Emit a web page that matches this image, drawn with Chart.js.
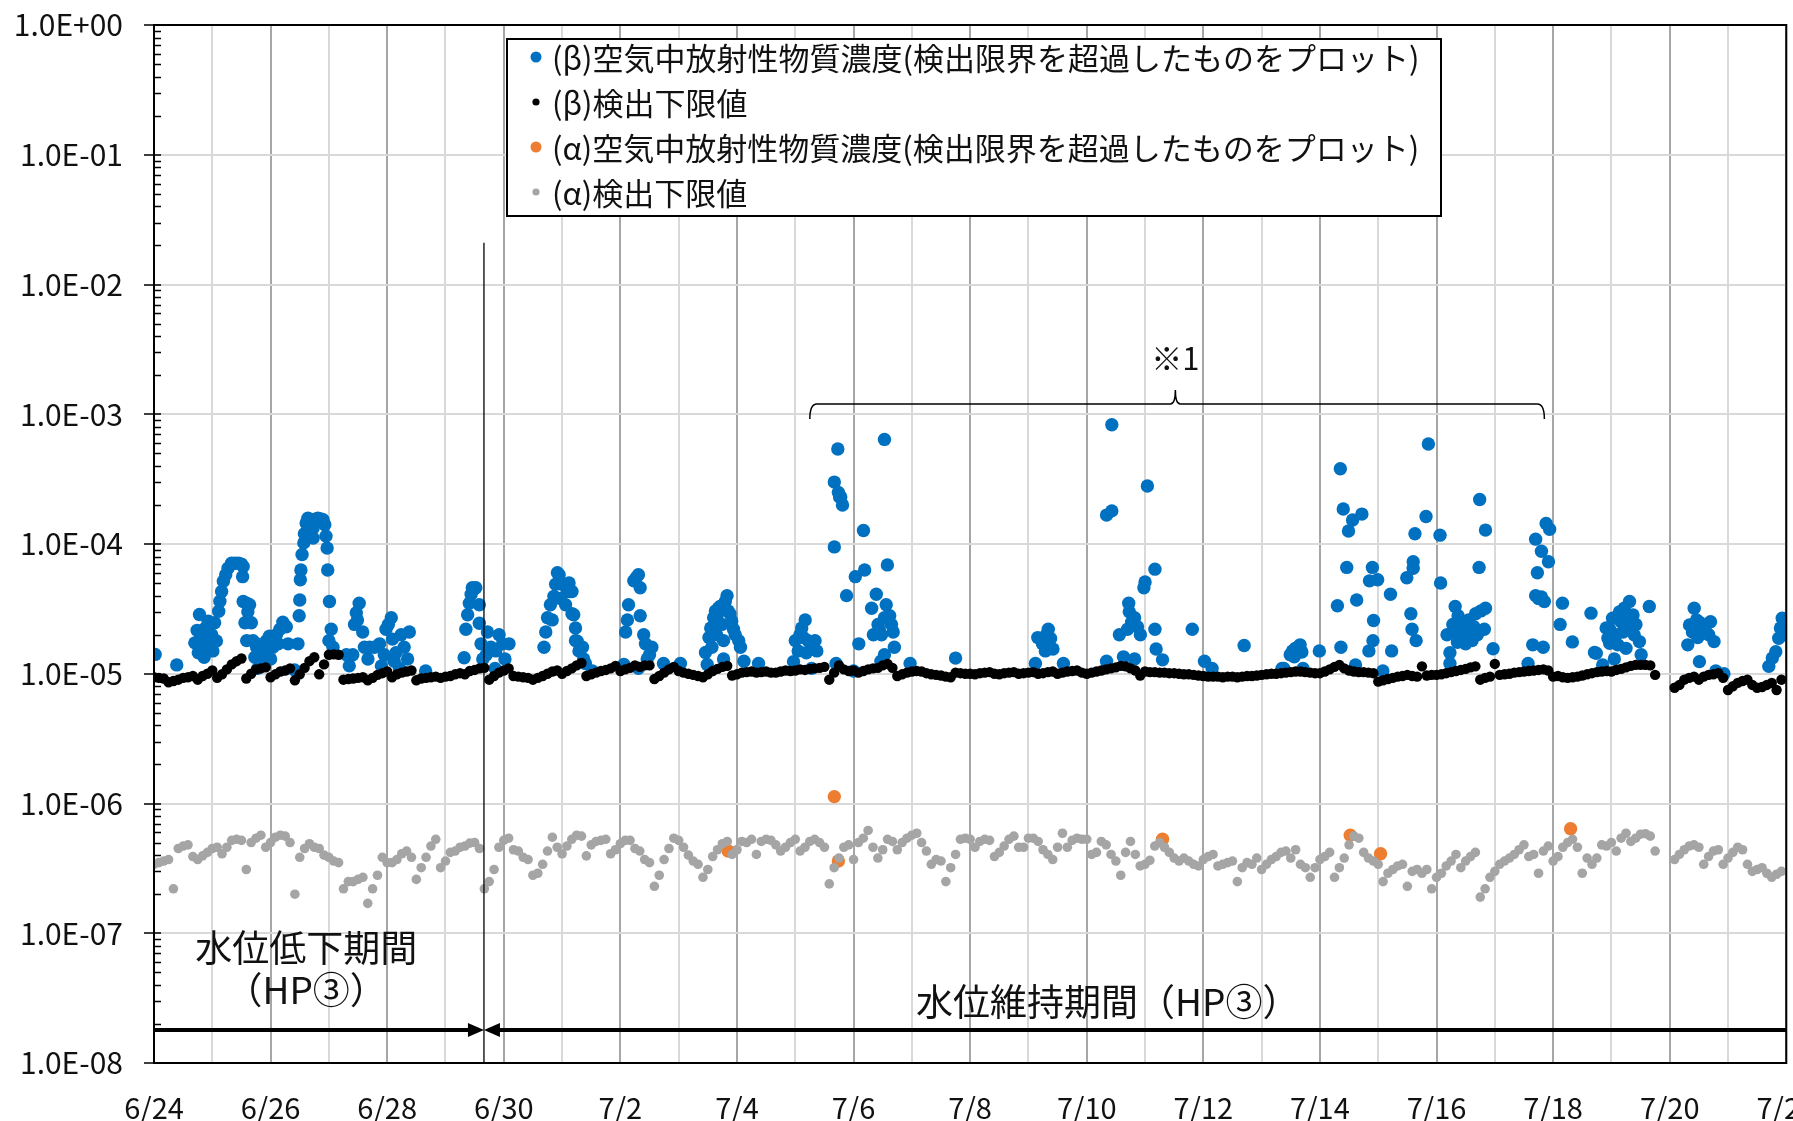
<!DOCTYPE html>
<html lang="ja">
<head>
<meta charset="utf-8">
<title>空気中放射性物質濃度</title>
<script src="https://cdn.jsdelivr.net/npm/chart.js@4.4.1/dist/chart.umd.min.js"></script>
<style>
  html, body { margin: 0; padding: 0; background: #fff; }
  canvas { display: block; }
</style>
</head>
<body>
<canvas id="graph" width="1793" height="1121"></canvas>
<script>
const xTickLabels = ['6/24', '6/26', '6/28', '6/30', '7/2', '7/4', '7/6', '7/8', '7/10', '7/12', '7/14', '7/16', '7/18', '7/20', '7/22'];
const yTickValues = [1e-8, 1e-7, 1e-6, 1e-5, 1e-4, 1e-3, 1e-2, 1e-1, 1];
const yTickLabels = ['1.0E-08', '1.0E-07', '1.0E-06', '1.0E-05', '1.0E-04', '1.0E-03', '1.0E-02', '1.0E-01', '1.0E+00'];
const seriesLabels = [
  '(β)空気中放射性物質濃度(検出限界を超過したものをプロット)',
  '(β)検出下限値',
  '(α)空気中放射性物質濃度(検出限界を超過したものをプロット)',
  '(α)検出下限値'
];

// β 濃度 [6/24 0時からの日数, Bq/cm3]
const betaConc = [
  [0.02,1.41e-5],[0.39,1.17e-5],[0.70,1.73e-5],[0.74,2.16e-5],[0.76,1.45e-5],[0.78,2.86e-5],[0.80,1.9e-5],
  [0.82,1.59e-5],[0.86,1.34e-5],[0.89,2.27e-5],[0.93,2.54e-5],[0.95,1.7e-5],[0.99,2.0e-5],[1.01,1.5e-5],
  [1.04,2.47e-5],[1.07,1.79e-5],[1.11,3.03e-5],[1.13,3.62e-5],[1.16,4.3e-5],[1.19,5.16e-5],[1.23,5.8e-5],
  [1.27,6.5e-5],[1.33,7.1e-5],[1.39,7.1e-5],[1.45,7.1e-5],[1.50,7.0e-5],[1.52,5.6e-5],[1.53,6.7e-5],
  [1.53,3.6e-5],[1.56,2.47e-5],[1.59,3.5e-5],[1.59,1.8e-5],[1.61,3.0e-5],[1.64,3.4e-5],[1.67,2.47e-5],
  [1.70,1.8e-5],[1.73,1.34e-5],[1.76,1.6e-5],[1.78,1.1e-5],[1.81,1.68e-5],[1.84,1.2e-5],[1.87,1.4e-5],
  [1.90,1.5e-5],[1.93,1.8e-5],[1.98,1.95e-5],[2.00,1.3e-5],[2.04,1.6e-5],[2.10,2.0e-5],[2.13,1.7e-5],
  [2.16,2.2e-5],[2.21,2.5e-5],[2.27,2.3e-5],[2.30,1.7e-5],[2.41,1.07e-5],[2.47,1.7e-5],
  [2.49,2.8e-5],[2.50,3.7e-5],[2.51,5.3e-5],[2.52,6.3e-5],[2.54,8.3e-5],[2.57,1.02e-4],[2.58,1.2e-4],
  [2.61,1.45e-4],[2.64,1.58e-4],[2.67,1.55e-4],[2.70,1.5e-4],[2.73,1.33e-4],[2.73,1.11e-4],[2.77,1.55e-4],
  [2.81,1.58e-4],[2.86,1.56e-4],[2.90,1.54e-4],[2.93,1.41e-4],[2.95,1.15e-4],[2.97,9.3e-5],[2.98,6.3e-5],
  [3.00,1.8e-5],[3.01,3.6e-5],[3.04,2.2e-5],[3.07,1.6e-5],
  [3.30,1.4e-5],[3.35,1.15e-5],[3.41,1.4e-5],[3.44,2.4e-5],[3.47,2.95e-5],[3.49,2.6e-5],[3.52,3.5e-5],
  [3.58,2.1e-5],[3.61,1.6e-5],[3.67,1.3e-5],[3.70,1.6e-5],[3.78,1.6e-5],[3.87,1.7e-5],[3.90,1.15e-5],
  [3.95,1.4e-5],[3.98,2.2e-5],[4.02,2.4e-5],[4.07,2.7e-5],[4.09,1.85e-5],[4.12,1.25e-5],[4.15,1.45e-5],
  [4.21,1.1e-5],[4.24,2.0e-5],[4.29,1.6e-5],[4.35,1.3e-5],[4.38,2.1e-5],[4.66,1.05e-5],
  [5.32,1.33e-5],[5.35,2.2e-5],[5.38,2.85e-5],[5.41,3.5e-5],[5.44,4.1e-5],[5.46,4.6e-5],[5.49,4.5e-5],
  [5.52,4.6e-5],[5.58,3.4e-5],[5.58,2.45e-5],[5.61,1.7e-5],[5.64,1.3e-5],[5.70,1.4e-5],[5.72,2.1e-5],
  [5.78,1.6e-5],[5.85,1.1e-5],[5.86,1.5e-5],[5.92,2.0e-5],[5.98,1.7e-5],[6.02,1.3e-5],[6.09,1.7e-5],
  [6.69,1.6e-5],[6.72,2.1e-5],[6.75,2.7e-5],[6.80,3.4e-5],[6.83,2.6e-5],[6.86,3.95e-5],[6.89,4.9e-5],
  [6.92,6.0e-5],[6.95,5.8e-5],[6.97,3.8e-5],[7.00,4.9e-5],[7.06,3.4e-5],[7.09,4.3e-5],[7.12,5.0e-5],
  [7.14,4.3e-5],[7.17,4.3e-5],[7.17,2.9e-5],[7.20,2.85e-5],[7.23,2.25e-5],[7.23,1.8e-5],[7.26,1.78e-5],
  [7.29,1.5e-5],[7.35,1.6e-5],[7.37,1.3e-5],[7.40,1.2e-5],[7.52,1.05e-5],
  [8.06,1.18e-5],[8.09,2.1e-5],[8.12,2.6e-5],[8.14,3.4e-5],[8.23,5.2e-5],[8.27,5.5e-5],[8.31,5.8e-5],
  [8.31,1.1e-5],[8.34,4.6e-5],[8.34,2.8e-5],[8.40,2.0e-5],[8.43,1.7e-5],[8.46,1.3e-5],[8.50,1.4e-5],
  [8.54,1.6e-5],[8.74,1.2e-5],[9.03,1.2e-5],
  [9.46,1.46e-5],[9.49,1.18e-5],[9.52,1.9e-5],[9.55,2.25e-5],[9.57,1.6e-5],[9.60,2.7e-5],[9.63,3.04e-5],
  [9.65,2.0e-5],[9.66,2.8e-5],[9.68,3.2e-5],[9.71,3.3e-5],[9.74,2.4e-5],[9.77,1.8e-5],[9.77,1.3e-5],
  [9.80,3.6e-5],[9.83,4.0e-5],[9.85,3.05e-5],[9.88,2.9e-5],[9.91,2.55e-5],[9.94,2.2e-5],[9.97,2.0e-5],
  [10.03,1.8e-5],[10.06,1.6e-5],[10.12,1.25e-5],[10.37,1.2e-5],
  [10.97,1.24e-5],[11.00,1.8e-5],[11.05,1.5e-5],[11.08,2.0e-5],[11.11,2.25e-5],[11.14,1.9e-5],[11.17,2.6e-5],
  [11.19,1.45e-5],[11.22,1.8e-5],[11.28,1.7e-5],[11.28,1.1e-5],[11.34,1.8e-5],[11.37,1.5e-5],
  [11.67,3.0e-4],[11.67,9.5e-5],[11.70,1.2e-5],[11.73,5.4e-4],[11.74,2.5e-4],[11.76,2.3e-4],[11.78,2.3e-4],
  [11.81,2.0e-4],[11.88,4.0e-5],[12.00,1.05e-5],[12.03,5.6e-5],[12.09,1.7e-5],[12.17,1.27e-4],[12.19,6.3e-5],
  [12.31,3.2e-5],[12.34,2.0e-5],[12.39,4.1e-5],[12.42,2.4e-5],[12.44,2.2e-5],[12.47,1.25e-5],[12.48,2.0e-5],
  [12.53,6.4e-4],[12.53,2.7e-5],[12.53,1.4e-5],[12.56,3.4e-5],[12.58,6.9e-5],[12.62,2.8e-5],[12.65,2.4e-5],
  [12.68,2.1e-5],[12.70,1.6e-5],[12.97,1.2e-5],[13.75,1.32e-5],
  [15.12,1.2e-5],[15.16,1.9e-5],[15.24,1.7e-5],[15.29,1.5e-5],[15.31,2.0e-5],[15.34,2.2e-5],[15.38,1.87e-5],
  [15.42,1.55e-5],[15.60,1.2e-5],[16.34,1.25e-5],
  [16.34,1.67e-4],[16.43,1.8e-4],[16.43,8.3e-4],[16.56,2.0e-5],[16.63,1.35e-5],[16.70,2.2e-5],[16.72,3.5e-5],
  [16.73,3.0e-5],[16.77,2.5e-5],[16.82,2.7e-5],[16.82,1.3e-5],[16.87,2.3e-5],[16.92,2.0e-5],[16.98,4.6e-5],
  [17.00,5.1e-5],[17.04,2.8e-4],[17.17,6.4e-5],[17.17,2.2e-5],[17.19,1.55e-5],[17.30,1.28e-5],
  [17.81,2.2e-5],[18.02,1.25e-5],[18.15,1.1e-5],[18.70,1.65e-5],
  [19.35,1.1e-5],[19.38,1.1e-5],[19.49,1.4e-5],[19.53,1.5e-5],[19.56,1.35e-5],[19.58,1.57e-5],[19.62,1.6e-5],
  [19.66,1.67e-5],[19.69,1.47e-5],[19.71,1.1e-5],[19.99,1.5e-5],
  [20.30,3.34e-5],[20.35,3.8e-4],[20.36,1.6e-5],[20.40,1.86e-4],[20.46,6.6e-5],[20.49,1.26e-4],[20.56,1.53e-4],
  [20.61,1.17e-5],[20.63,3.7e-5],[20.72,1.7e-4],[20.84,1.5e-5],[20.85,5.2e-5],[20.90,6.6e-5],[20.91,1.8e-5],
  [20.92,2.57e-5],[20.99,5.3e-5],[21.08,1.05e-5],[21.21,4.1e-5],[21.23,1.5e-5],
  [21.49,5.5e-5],[21.56,2.9e-5],[21.58,2.2e-5],[21.60,7.3e-5],[21.60,6.5e-5],[21.63,1.2e-4],[21.65,1.8e-5],
  [21.82,1.63e-4],[21.86,5.9e-4],[22.06,1.17e-4],[22.07,5.0e-5],[22.18,2.0e-5],[22.23,1.45e-5],[22.23,1.2e-5],
  [22.28,2.4e-5],[22.32,3.3e-5],[22.33,2.1e-5],[22.36,1.75e-5],[22.37,2.8e-5],[22.40,2.2e-5],[22.43,1.9e-5],
  [22.46,2.5e-5],[22.49,2.3e-5],[22.50,1.7e-5],[22.52,2.0e-5],[22.55,2.6e-5],[22.58,2.1e-5],[22.61,1.8e-5],
  [22.64,2.3e-5],[22.67,2.9e-5],[22.70,2.0e-5],[22.73,6.6e-5],[22.74,2.2e-4],[22.76,3.05e-5],[22.82,2.2e-5],
  [22.84,1.28e-4],[22.84,3.2e-5],[22.97,1.56e-5],
  [23.57,1.2e-5],[23.65,1.67e-5],[23.70,1.09e-4],[23.70,4.0e-5],[23.73,6.0e-5],[23.75,3.8e-5],[23.80,8.8e-5],
  [23.80,3.9e-5],[23.83,1.6e-5],[23.85,3.6e-5],[23.88,1.44e-4],[23.92,7.3e-5],[23.94,1.3e-4],[24.12,2.4e-5],
  [24.16,3.5e-5],[24.33,1.76e-5],[24.65,2.93e-5],[24.71,1.46e-5],
  [24.74,1.44e-5],[24.85,1.17e-5],[24.91,2.25e-5],[24.94,1.88e-5],[24.97,1.72e-5],[24.97,2.2e-5],[25.02,2.68e-5],
  [25.05,1.3e-5],[25.08,2.0e-5],[25.11,1.67e-5],[25.14,3.0e-5],[25.17,2.5e-5],[25.20,2.1e-5],[25.22,3.2e-5],
  [25.25,2.4e-5],[25.25,1.57e-5],[25.28,2.7e-5],[25.31,3.6e-5],[25.34,2.25e-5],[25.37,2.84e-5],[25.39,2.0e-5],
  [25.42,2.4e-5],[25.48,1.77e-5],[25.51,1.4e-5],[25.65,3.3e-5],
  [26.31,1.67e-5],[26.34,2.38e-5],[26.39,2.1e-5],[26.42,3.2e-5],[26.46,2.6e-5],[26.48,1.9e-5],[26.51,2.5e-5],
  [26.51,1.24e-5],[26.54,2.1e-5],[26.58,2.3e-5],[26.62,2.38e-5],[26.67,2.0e-5],[26.70,2.52e-5],[26.76,1.77e-5],
  [26.79,1.05e-5],[26.93,1.0e-5],
  [27.70,1.14e-5],[27.76,1.32e-5],[27.82,1.48e-5],[27.87,1.88e-5],[27.90,2.25e-5],[27.93,2.68e-5],[27.96,2.0e-5],
  [27.99,2.4e-5]
];

// β 検出下限値 (x1e-6)、1日12点 (2時間ごと)
const betaLimit = [
  [9.4,9.3,9.2,8.6,8.8,9.0,9.3,9.4,9.6,9.0,9.6,10.0],
  [10.6,9.3,9.9,10.8,11.8,12.5,13.1,9.2,10.0,10.8,11.0,11.2],
  [9.4,9.9,10.4,10.6,11.0,8.9,9.9,11.1,12.5,13.4,9.9,11.8],
  [14.0,14.1,14.0,9.0,9.1,9.2,9.3,9.4,8.9,9.3,9.8,10.1],
  [10.4,9.4,9.9,10.2,10.4,10.6,8.9,9.2,9.3,9.4,9.5,9.3],
  [9.5,9.6,9.9,10.1,9.9,10.5,10.7,11.0,11.1,9.0,9.6,10.2],
  [10.6,11.0,9.6,9.5,9.4,9.3,9.0,9.3,9.6,10.0,10.4,10.6],
  [10.0,10.5,11.0,11.6,12.1,9.6,9.9,10.2,10.5,10.7,11.0,11.5],
  [10.5,10.8,11.1,11.6,11.3,11.6,11.6,9.1,9.6,10.2,10.8,11.3],
  [10.5,10.2,10.0,9.8,9.6,9.4,9.9,10.5,10.9,11.3,11.5,9.7],
  [9.9,10.2,10.3,10.4,10.2,10.3,10.4,10.2,10.2,10.4,10.6,10.5],
  [10.6,10.8,10.7,10.9,11.0,11.1,11.3,9.0,10.2,11.6,10.8,10.5],
  [10.6,10.2,10.5,10.8,11.0,11.1,11.6,11.9,11.1,9.6,9.9,10.2],
  [10.4,10.5,10.4,10.1,9.9,9.8,9.7,9.5,9.4,10.2,10.1,10.0],
  [10.0,9.9,10.1,10.2,10.3,10.0,9.9,10.1,10.2,10.3,10.0,10.1],
  [10.2,10.3,10.0,10.1,10.3,10.4,10.0,10.2,10.4,10.5,10.6,10.2],
  [10.0,10.2,10.4,10.6,10.8,11.0,11.2,11.5,11.4,11.0,10.6,9.7],
  [10.4,10.3,10.3,10.2,10.2,10.1,10.1,10.0,9.9,9.9,9.8,9.7],
  [9.6,9.5,9.5,9.5,9.4,9.5,9.5,9.4,9.5,9.6,9.6,9.7],
  [9.8,9.9,10.0,10.0,10.1,10.2,10.3,10.4,10.4,10.3,10.2,10.1],
  [10.1,10.4,10.8,11.3,11.7,11.0,10.6,10.4,10.3,10.3,10.2,10.1],
  [8.7,8.9,9.1,9.3,9.5,9.6,9.8,9.6,9.5,11.4,9.7,9.8],
  [9.8,9.9,10.1,10.3,10.5,10.7,10.9,11.2,11.4,9.0,9.3,9.5],
  [11.9,9.8,9.9,10.0,10.2,10.3,10.4,10.5,10.6,10.7,10.8,10.6],
  [9.5,9.6,9.4,9.3,9.4,9.5,9.7,9.9,10.1,10.3,10.4,10.5],
  [10.4,10.7,10.9,11.2,11.5,11.7,11.7,11.7,11.6,9.8,null,null],
  [null,7.8,8.2,9.0,9.3,9.5,9.0,9.5,9.8,9.9,10.1,9.3],
  [7.5,8.0,8.5,8.8,9.0,8.2,7.8,7.9,8.2,8.5,7.5,9.0]
];

// α 濃度 [日数, Bq/cm3]
const alphaConc = [[9.85,4.3e-7],[11.67,1.13e-6],[11.74,3.6e-7],[17.30,5.3e-7],[20.52,5.7e-7],[21.04,4.1e-7],[24.30,6.4e-7]];

// α 検出下限値 (x1e-7)、1日12点
const alphaLimit = [
  [3.4,3.5,3.6,3.7,2.2,4.5,4.7,4.8,3.9,3.7,3.95,4.2],
  [4.5,4.6,4.1,4.6,5.2,5.3,5.2,3.1,5.0,5.4,5.7,4.6],
  [5.0,5.5,5.7,5.6,5.0,2.0,3.85,4.5,4.9,4.6,4.5,4.0],
  [3.85,3.6,3.5,2.2,2.5,2.5,2.6,2.7,1.7,2.2,2.8,3.85],
  [3.5,3.5,3.7,4.1,4.3,3.85,2.6,3.2,3.85,4.7,5.3,3.2],
  [3.6,4.2,4.3,4.6,4.7,4.95,5.0,4.5,2.2,2.5,3.1,4.6],
  [5.2,5.4,4.4,4.3,3.85,3.7,2.8,2.9,3.4,4.3,5.5,4.6],
  [4.1,4.7,5.3,5.7,5.6,3.95,4.8,5.1,5.2,5.3,4.1,4.4],
  [4.9,5.2,5.2,4.5,4.3,3.7,3.5,2.3,2.8,3.7,4.5,5.4],
  [5.2,4.6,4.0,3.6,3.4,2.7,3.1,3.9,4.4,4.9,5.1,4.05],
  [4.4,5.1,5.0,5.3,4.05,5.1,5.3,5.2,4.8,4.3,4.6,5.0],
  [5.3,4.3,4.6,5.1,5.3,5.0,4.6,2.4,3.2,3.8,4.6,4.8],
  [3.7,5.0,5.4,6.2,4.6,3.8,4.4,5.3,5.1,4.4,5.0,5.4],
  [5.7,5.9,5.0,4.3,3.4,3.7,3.6,2.5,3.2,4.05,5.3,5.4],
  [5.3,4.6,5.1,5.3,5.2,3.9,4.2,4.7,5.3,5.6,4.6,4.6],
  [5.4,5.4,5.1,4.4,4.05,3.7,4.6,5.9,4.6,5.2,5.4,5.3],
  [5.3,4.05,4.2,5.1,4.8,4.05,3.6,2.8,4.2,5.1,4.05,3.3],
  [3.4,3.65,4.7,5.0,4.6,4.2,3.8,3.6,3.8,3.6,3.4,3.3],
  [3.7,3.9,4.05,3.3,3.4,3.5,3.6,2.5,3.2,3.5,3.4,3.8],
  [3.1,3.4,3.7,3.9,4.2,4.3,3.8,4.4,3.4,3.2,2.7,3.2],
  [3.7,3.9,4.2,2.7,3.2,3.8,4.8,5.6,5.4,4.2,3.8,3.6],
  [3.4,2.5,2.9,3.1,3.3,3.4,2.3,3.0,3.1,2.9,3.1,2.2],
  [2.7,2.9,3.3,3.6,4.05,3.2,3.6,3.9,4.2,1.9,2.2,2.7],
  [3.0,3.4,3.6,3.8,4.05,4.4,4.8,3.9,4.05,2.9,4.3,4.7],
  [3.6,3.9,4.6,5.0,5.3,4.6,2.9,3.8,3.4,3.8,4.8,4.7],
  [5.0,4.3,5.4,5.9,5.1,5.4,5.8,5.85,5.6,4.3,null,null],
  [null,3.7,4.05,4.4,4.7,4.8,4.6,3.4,3.9,4.3,4.4,3.4],
  [3.8,4.2,4.6,4.4,3.4,3.0,3.1,3.2,2.9,2.7,2.85,3.0]
];

const FONT = '"Noto Sans CJK JP", "Noto Sans", sans-serif';
const TEXT = '#111';

// 期間の区切りと注記
const periodSplit = 5.66;
const splitTop = 2.1e-2;
const arrowLevel = 1.8e-8;
const bracket = { from: 11.25, to: 23.85, mid: 17.52, level: 1.2e-3, noteAt: 2.7e-3 };

function dailySeries(rows, unit) {
  let pts = [];
  rows.forEach((row, day) => {
    row.forEach((v, i) => {
      if (v !== null) pts.push({ x: day + i / 12, y: v * unit });
    });
  });
  return pts;
}

function toPoints(pairs) {
  return pairs.map((p) => ({ x: p[0], y: p[1] }));
}

function drawArrow(c, from, to, y) {
  const dir = Math.sign(to - from);
  c.beginPath();
  c.moveTo(from, y);
  c.lineTo(to - dir * 12, y);
  c.stroke();
  c.beginPath();
  c.moveTo(to, y);
  c.lineTo(to - dir * 16, y - 7);
  c.lineTo(to - dir * 16, y + 7);
  c.closePath();
  c.fill();
}

const frameAndTicks = {
  id: 'frameAndTicks',
  afterDraw(chart) {
    const c = chart.ctx, y = chart.scales.y, a = chart.chartArea;
    c.save();
    c.strokeStyle = '#000';
    c.lineWidth = 2;
    c.strokeRect(a.left, a.top, a.right - a.left, a.bottom - a.top);
    c.lineWidth = 1.5;
    c.beginPath();
    yTickValues.forEach((v, i) => {
      const py = Math.round(y.getPixelForValue(v));
      c.moveTo(a.left - 10, py);
      c.lineTo(a.left + 7, py);
      if (i === yTickValues.length - 1) return;
      for (let m = 2; m <= 9; m++) {
        const my = Math.round(y.getPixelForValue(v * m)) + 0.5;
        c.moveTo(a.left, my);
        c.lineTo(a.left + 7, my);
      }
    });
    c.stroke();
    c.restore();
  }
};

const notes = {
  id: 'notes',
  afterDatasetsDraw(chart) {
    const c = chart.ctx, x = chart.scales.x, y = chart.scales.y, a = chart.chartArea;
    const sx = x.getPixelForValue(periodSplit);
    c.save();
    c.strokeStyle = '#000';
    c.fillStyle = '#000';

    c.lineWidth = 1.3;
    c.beginPath();
    c.moveTo(sx, y.getPixelForValue(splitTop));
    c.lineTo(sx, a.bottom);
    c.stroke();

    const ay = y.getPixelForValue(arrowLevel);
    c.lineWidth = 4;
    drawArrow(c, a.left, sx, ay);
    drawArrow(c, a.right, sx, ay);

    // ※1 の括弧
    const bx1 = x.getPixelForValue(bracket.from), bx2 = x.getPixelForValue(bracket.to);
    const bxm = x.getPixelForValue(bracket.mid), by = y.getPixelForValue(bracket.level);
    c.lineWidth = 1.5;
    c.beginPath();
    c.moveTo(bx1, by + 15);
    c.quadraticCurveTo(bx1, by, bx1 + 7, by);
    c.lineTo(bxm - 5, by);
    c.quadraticCurveTo(bxm, by, bxm, by - 14);
    c.quadraticCurveTo(bxm, by, bxm + 5, by);
    c.lineTo(bx2 - 7, by);
    c.quadraticCurveTo(bx2, by, bx2, by + 15);
    c.stroke();

    c.fillStyle = TEXT;
    c.textAlign = 'center';
    c.textBaseline = 'middle';
    c.font = '31px ' + FONT;
    c.fillText('※1', bxm, y.getPixelForValue(bracket.noteAt));

    c.font = '37px ' + FONT;
    const lx = x.getPixelForValue(2.61);
    c.fillText('水位低下期間', lx, y.getPixelForValue(7.75e-8));
    c.fillText('（HP③）', lx, y.getPixelForValue(3.68e-8));
    c.fillText('水位維持期間（HP③）', x.getPixelForValue(16.36), y.getPixelForValue(2.97e-8));
    c.restore();
  }
};

const legendBox = {
  id: 'legendBox',
  afterDraw(chart) {
    const c = chart.ctx;
    const box = { left: 507, top: 39, width: 934, height: 177 };
    c.save();
    c.fillStyle = '#fff';
    c.fillRect(box.left, box.top, box.width, box.height);
    c.strokeStyle = '#000';
    c.lineWidth = 2;
    c.strokeRect(box.left, box.top, box.width, box.height);
    c.font = '31px ' + FONT;
    c.textBaseline = 'middle';
    chart.data.datasets.forEach((ds, i) => {
      const cy = box.top + 18 + i * 45;
      c.fillStyle = ds.backgroundColor;
      c.beginPath();
      c.arc(box.left + 29, cy, ds.pointRadius > 6 ? 5.5 : 3.6, 0, Math.PI * 2);
      c.fill();
      c.fillStyle = TEXT;
      c.fillText(ds.label, box.left + 45, cy + 1);
    });
    c.restore();
  }
};

Chart.defaults.font.family = FONT;
Chart.defaults.color = TEXT;

new Chart(document.getElementById('graph'), {
  type: 'scatter',
  data: {
    datasets: [
      { label: seriesLabels[0], data: toPoints(betaConc), backgroundColor: '#0070C0', pointRadius: 6.7, order: 4 },
      { label: seriesLabels[1], data: dailySeries(betaLimit, 1e-6), backgroundColor: '#000000', pointRadius: 5.2, order: 3 },
      { label: seriesLabels[2], data: toPoints(alphaConc), backgroundColor: '#ED7D31', pointRadius: 6.7, order: 2 },
      { label: seriesLabels[3], data: dailySeries(alphaLimit, 1e-7), backgroundColor: '#A5A5A5', pointRadius: 4.8, order: 1 }
    ]
  },
  options: {
    responsive: false,
    animation: false,
    devicePixelRatio: 1,
    layout: { padding: { top: 25, right: 2, left: 0, bottom: 0 } },
    elements: { point: { borderWidth: 0, hoverRadius: 0 } },
    plugins: { legend: { display: false }, tooltip: { enabled: false } },
    scales: {
      x: {
        type: 'linear',
        min: 0,
        max: 28,
        afterBuildTicks: (s) => {
          s.ticks = [];
          for (let d = 0; d <= 28; d++) s.ticks.push({ value: d });
        },
        afterFit: (s) => { s.height = 58; s.paddingLeft = 0; s.paddingRight = 0; },
        grid: {
          color: (ctx) => (ctx.tick && ctx.tick.value % 2 === 0 ? '#a6a6a6' : '#d9d9d9'),
          lineWidth: 2,
          drawTicks: false
        },
        border: { color: '#000', width: 2 },
        ticks: {
          autoSkip: false,
          maxRotation: 0,
          padding: 28,
          font: { size: 29 },
          callback: (v) => (v % 2 === 0 ? xTickLabels[v / 2] : '')
        }
      },
      y: {
        type: 'logarithmic',
        min: 1e-8,
        max: 1,
        afterBuildTicks: (s) => { s.ticks = yTickValues.map((v) => ({ value: v })); },
        afterFit: (s) => { s.width = 154; s.paddingTop = 0; s.paddingBottom = 0; },
        grid: { color: '#d9d9d9', lineWidth: 2, drawTicks: false },
        border: { color: '#000', width: 2 },
        ticks: {
          autoSkip: false,
          padding: 31,
          font: { size: 30 },
          callback: (v, i) => yTickLabels[i]
        }
      }
    }
  },
  plugins: [frameAndTicks, notes, legendBox]
});
</script>
</body>
</html>
